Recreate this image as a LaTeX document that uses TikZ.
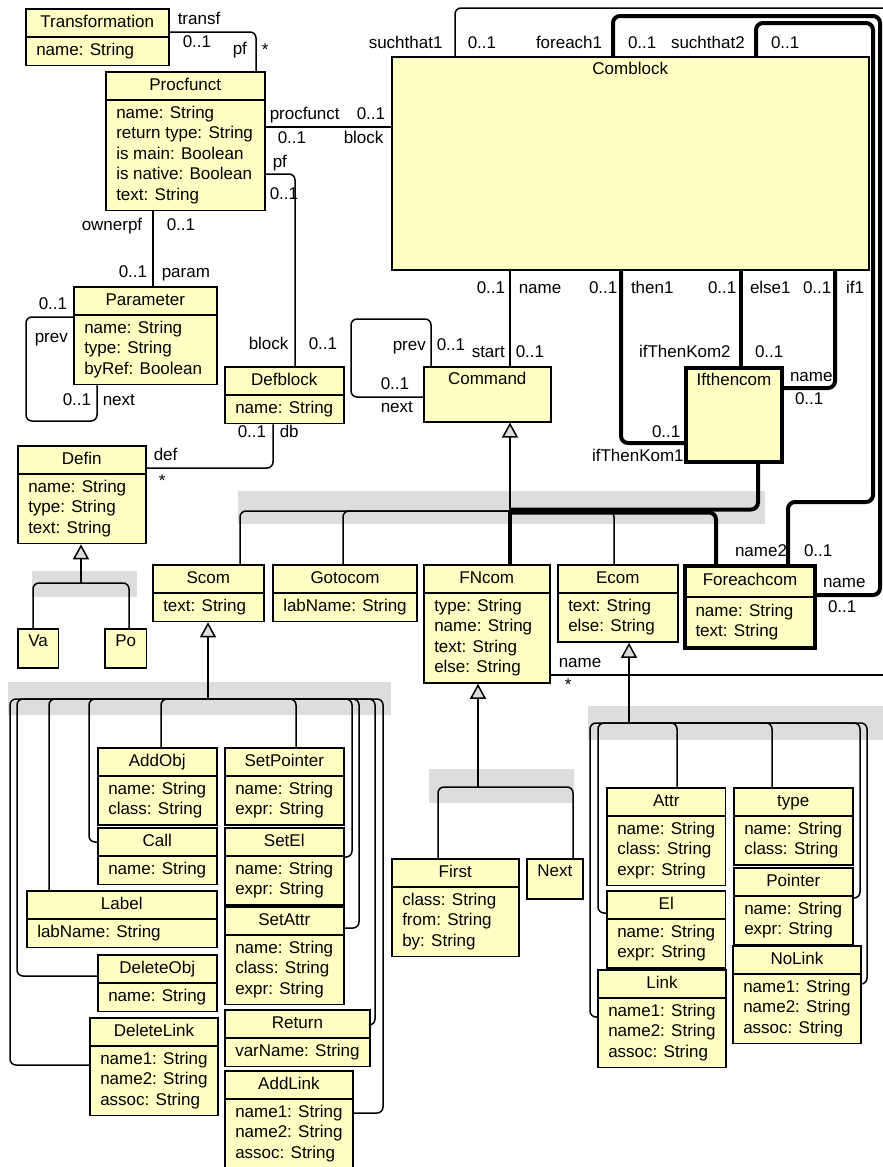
\documentclass[tikz,border=0pt]{standalone}
\usepackage{fontspec}
\setmainfont{Liberation Sans}
\usepackage{tikz}
\usetikzlibrary{shapes.multipart, arrows.meta}
\definecolor{cFill}{RGB}{255,255,196}
\definecolor{cBar}{RGB}{221,221,221}
\definecolor{cTip}{RGB}{220,220,220}
\newcommand{\umlfont}{\fontsize{17}{20.5}\selectfont}
\newcommand{\attrs}[1]{\strut#1\strut}
\tikzset{
	cls/.style={rectangle split, rectangle split parts=2, rectangle split part align={center,left},
		draw=black, fill=cFill, line width=1.5pt, anchor=north west, align=left,
		inner xsep=10.5pt, inner ysep=3.2pt, font=\umlfont, minimum width=#1},
	ttl/.style 2 args={rectangle, draw=black, fill=cFill, line width=1.5pt, anchor=north west,
		inner xsep=10.5pt, inner ysep=3.2pt, font=\umlfont, minimum width=#1,
		text height=14.35pt, text depth=#2},
	hilite/.style={line width=4pt},
	assoc/.style={line width=1.5pt, rounded corners=6pt},
	selassoc/.style={line width=4pt, rounded corners=7pt},
	gen/.style={line width=1.5pt, -{Triangle[width=16pt, length=15pt, fill=cTip]}},
	lbl/.style={font=\umlfont, anchor=base west, inner sep=0pt},
}
\begin{document}
\begin{tikzpicture}[x=1pt, y=-1pt]
\useasboundingbox (0,0) rectangle (883,1167);
% grey bars behind the inheritance trees
\fill[cBar] (238,491) rectangle (765,524);
\fill[cBar] (32,571) rectangle (137,597);
\fill[cBar] (8,682) rectangle (391,715);
\fill[cBar] (429,769) rectangle (574,803);
\fill[cBar] (588,706) rectangle (883,740);

% classes
\node[cls=143pt] (transf) at (25,8) {\attrs{Transformation}\nodepart{two}\attrs{name: String}};
\node[cls=159pt] (procf) at (105,71) {\attrs{Procfunct}\nodepart{two}\attrs{name: String\\return type: String\\is main: Boolean\\is native: Boolean\\text: String}};
\node[cls=143pt] (param) at (73,286) {\attrs{Parameter}\nodepart{two}\attrs{name: String\\type: String\\byRef: Boolean}};
\node[cls=119pt] (defblock) at (224,366) {\attrs{Defblock}\nodepart{two}\attrs{name: String}};
\node[cls=128pt] (defin) at (17,445) {\attrs{Defin}\nodepart{two}\attrs{name: String\\type: String\\text: String}};
\node[ttl={40pt}{18.25pt}] (va) at (17,628) {Va};
\node[ttl={41pt}{18.25pt}] (po) at (104,628) {Po};
\node[ttl={477pt}{192.25pt}] (comblock) at (391,56) {Comblock};
\node[ttl={127pt}{34.25pt}] (command) at (423,366) {Command};
\node[ttl={96pt}{73.25pt}, hilite] (ifthen) at (684,366) {Ifthencom};
\node[cls=111pt] (scom) at (152,564) {\attrs{Scom}\nodepart{two}\attrs{text: String}};
\node[cls=143pt] (gotocom) at (272,564) {\attrs{Gotocom}\nodepart{two}\attrs{labName: String}};
\node[cls=126pt] (fncom) at (423,564) {\attrs{FNcom}\nodepart{two}\attrs{type: String\\name: String\\text: String\\else: String}};
\node[cls=120pt] (ecom) at (557,564) {\attrs{Ecom}\nodepart{two}\attrs{text: String\\else: String}};
\node[cls=130pt, hilite, rectangle split draw splits=false] (foreach) at (683,564) {\attrs{Foreachcom}\nodepart{two}\attrs{name: String\\text: String}};
\draw[line width=1.5pt] (foreach.text split west) -- (foreach.text split east);

\node[cls=119pt] (addobj) at (97,747) {\attrs{AddObj}\nodepart{two}\attrs{name: String\\class: String}};
\node[cls=119pt] (setptr) at (224,747) {\attrs{SetPointer}\nodepart{two}\attrs{name: String\\expr: String}};
\node[cls=119pt] (call) at (97,827) {\attrs{Call}\nodepart{two}\attrs{name: String}};
\node[cls=119pt] (setel) at (224,827) {\attrs{SetEl}\nodepart{two}\attrs{name: String\\expr: String}};
\node[cls=190pt] (labelcls) at (26,890) {\attrs{Label}\nodepart{two}\attrs{labName: String}};
\node[cls=119pt] (setattr) at (224,906) {\attrs{SetAttr}\nodepart{two}\attrs{name: String\\class: String\\expr: String}};
\node[cls=119pt] (delobj) at (97,954) {\attrs{DeleteObj}\nodepart{two}\attrs{name: String}};
\node[cls=127pt] (dellink) at (89,1017) {\attrs{DeleteLink}\nodepart{two}\attrs{name1: String\\name2: String\\assoc: String}};
\node[cls=144pt] (retcls) at (224,1009) {\attrs{Return}\nodepart{two}\attrs{varName: String}};
\node[cls=128pt] (addlink) at (224,1070) {\attrs{AddLink}\nodepart{two}\attrs{name1: String\\name2: String\\assoc: String}};

\node[cls=127pt] (first) at (391,858) {\attrs{First}\nodepart{two}\attrs{class: String\\from: String\\by: String}};
\node[ttl={56pt}{19.25pt}] (nextcls) at (526,858) {Next};

\node[cls=118pt] (attrcls) at (606,787) {\attrs{Attr}\nodepart{two}\attrs{name: String\\class: String\\expr: String}};
\node[cls=119pt] (typecls) at (733,787) {\attrs{type}\nodepart{two}\attrs{name: String\\class: String}};
\node[cls=119pt] (pointer) at (733,867) {\attrs{Pointer}\nodepart{two}\attrs{name: String\\expr: String}};
\node[cls=118pt] (el) at (606,890) {\attrs{El}\nodepart{two}\attrs{name: String\\expr: String}};
\node[cls=127pt] (nolink) at (732,945) {\attrs{NoLink}\nodepart{two}\attrs{name1: String\\name2: String\\assoc: String}};
\node[cls=128pt] (link) at (597,969) {\attrs{Link}\nodepart{two}\attrs{name1: String\\name2: String\\assoc: String}};

% associations
\draw[assoc] (transf.east |- 0,32) -| (procf.north -| 256,0)
	node[lbl] at (177,24) {transf} node[lbl] at (182,47) {0..1}
	node[lbl] at (232,54) {pf} node[lbl] at (261,55) {*};
\draw[assoc] (procf.east |- 0,127) -- (comblock.west |- 0,127)
	node[lbl] at (269,119) {procfunct} node[lbl] at (356,119) {0..1}
	node[lbl] at (277,143) {0..1} node[lbl] at (343,143) {block};
\draw[assoc] (procf.east |- 0,174) -| (defblock.north -| 295,0)
	node[lbl] at (272,167) {pf} node[lbl] at (269,199) {0..1}
	node[lbl] at (248,349) {block} node[lbl] at (308,349) {0..1};
\draw[assoc] (procf.south -| 153,0) -- (param.north -| 153,0)
	node[lbl] at (81,230) {ownerpf} node[lbl] at (166,230) {0..1}
	node[lbl] at (118,277) {0..1} node[lbl] at (161,277) {param};
\draw[assoc] (param.west |- 0,317) -| (26,421) -| (param.south -| 97,0)
	node[lbl] at (38,309) {0..1} node[lbl] at (34,342) {prev}
	node[lbl] at (62,405) {0..1} node[lbl] at (102,405) {next};
\draw[assoc] (defblock.south -| 273,0) |- (defin.east |- 0,468)
	node[lbl] at (237,437) {0..1} node[lbl] at (279,437) {db}
	node[lbl] at (153,460) {def} node[lbl] at (158,486) {*};
\draw[assoc] (comblock.south -| 510,0) -- (command.north -| 510,0)
	node[lbl] at (476,293) {0..1} node[lbl] at (518,293) {name}
	node[lbl] at (471,357) {start} node[lbl] at (515,357) {0..1};
\draw[assoc] (command.north -| 431,0) |- (351,319) |- (command.west |- 0,397)
	node[lbl] at (392,350) {prev} node[lbl] at (436,350) {0..1}
	node[lbl] at (380,389) {0..1} node[lbl] at (380,412) {next};
\draw[selassoc] (comblock.south -| 621,0) |- (ifthen.west |- 0,443)
	node[lbl] at (587,293) {0..1} node[lbl] at (629,293) {then1}
	node[lbl] at (650,437) {0..1} node[lbl] at (590,461) {ifThenKom1};
\draw[selassoc] (comblock.south -| 741,0) -- (ifthen.north -| 741,0)
	node[lbl] at (706,293) {0..1} node[lbl] at (748,293) {else1}
	node[lbl] at (637,357) {ifThenKom2} node[lbl] at (753,357) {0..1};
\draw[selassoc] (comblock.south -| 835,0) |- (ifthen.east |- 0,388)
	node[lbl] at (801,293) {0..1} node[lbl] at (844,293) {if1}
	node[lbl] at (788,381) {name} node[lbl] at (793,404) {0..1};
\coordinate (edgetop) at (883,8);
\draw[assoc] (comblock.north -| 455,0) |- (edgetop)
	node[lbl] at (368,48) {suchthat1} node[lbl] at (467,48) {0..1};
\draw[selassoc] (comblock.north -| 613,0) |- (880,16) |- (foreach.east |- 0,595)
	node[lbl] at (534,48) {foreach1} node[lbl] at (626,48) {0..1}
	node[lbl] at (821,587) {name} node[lbl] at (826,612) {0..1};
\draw[selassoc] (comblock.north -| 756,0) |- (873,23) |- (788,502) -- (foreach.north -| 788,0)
	node[lbl] at (669,48) {suchthat2} node[lbl] at (769,48) {0..1}
	node[lbl] at (733,556) {name2} node[lbl] at (802,556) {0..1};
\coordinate (edgeright) at (883,675);
\draw[assoc] (fncom.east |- 0,675) -- (edgeright)
	node[lbl] at (558,667) {name} node[lbl] at (564,690) {*};

% generalisations
\coordinate (cmdjoin) at (510,511);
\draw[gen] (cmdjoin) -- (command.south -| cmdjoin);
\draw[assoc] (scom.north -| 240,0) |- (cmdjoin);
\draw[assoc] (gotocom.north -| 343,0) |- (cmdjoin);
\draw[assoc] (ecom.north -| 614,0) |- (cmdjoin);
\draw[selassoc] (fncom.north -| cmdjoin) -- (cmdjoin);
\draw[selassoc] (ifthen.south -| 758,0) |- (510,509.5);
\draw[selassoc] (foreach.north -| 716,0) |- (510,512.5);

\coordinate (definjoin) at (81,583);
\draw[gen] (definjoin) -- (defin.south -| definjoin);
\draw[assoc] (va.north -| 33,0) |- (definjoin);
\draw[assoc] (po.north -| 129,0) |- (definjoin);

\coordinate (scomjoin) at (208,699);
\draw[gen] (scomjoin) -- (scom.south -| scomjoin);
\draw[assoc] (dellink.west |- 0,1065) -| (10,699) -- (scomjoin);
\draw[assoc] (delobj.west |- 0,976) -| (17,699) -- (scomjoin);
\draw[assoc] (labelcls.north -| 49,0) |- (scomjoin);
\draw[assoc] (call.west |- 0,842) -| (89,699) -- (scomjoin);
\draw[assoc] (addobj.north -| 161,0) |- (scomjoin);
\draw[assoc] (setptr.north -| 296,0) |- (scomjoin);
\draw[assoc] (setel.east |- 0,857) -| (352,699) -- (scomjoin);
\draw[assoc] (setattr.east |- 0,928) -| (359,699) -- (scomjoin);
\draw[assoc] (retcls.east |- 0,1025) -| (375,699) -- (scomjoin);
\draw[assoc] (addlink.east |- 0,1113) -| (383,699) -- (scomjoin);

\coordinate (fnjoin) at (478,787);
\draw[gen] (fnjoin) -- (fncom.south -| fnjoin);
\draw[assoc] (first.north -| 438,0) |- (fnjoin);
\draw[assoc] (nextcls.north -| 573,0) |- (fnjoin);

\coordinate (ecomjoin) at (629,723);
\draw[gen] (ecomjoin) -- (ecom.south -| ecomjoin);
\draw[assoc] (link.west |- 0,1017) -| (590,723) -- (ecomjoin);
\draw[assoc] (el.west |- 0,913) -| (598,723) -- (ecomjoin);
\draw[assoc] (attrcls.north -| 677,0) |- (ecomjoin);
\draw[assoc] (typecls.north -| 772,0) |- (ecomjoin);
\draw[assoc] (pointer.east |- 0,898) -| (860,723) -- (ecomjoin);
\draw[assoc] (nolink.east |- 0,984) -| (867,723) -- (ecomjoin);
\end{tikzpicture}
\end{document}
